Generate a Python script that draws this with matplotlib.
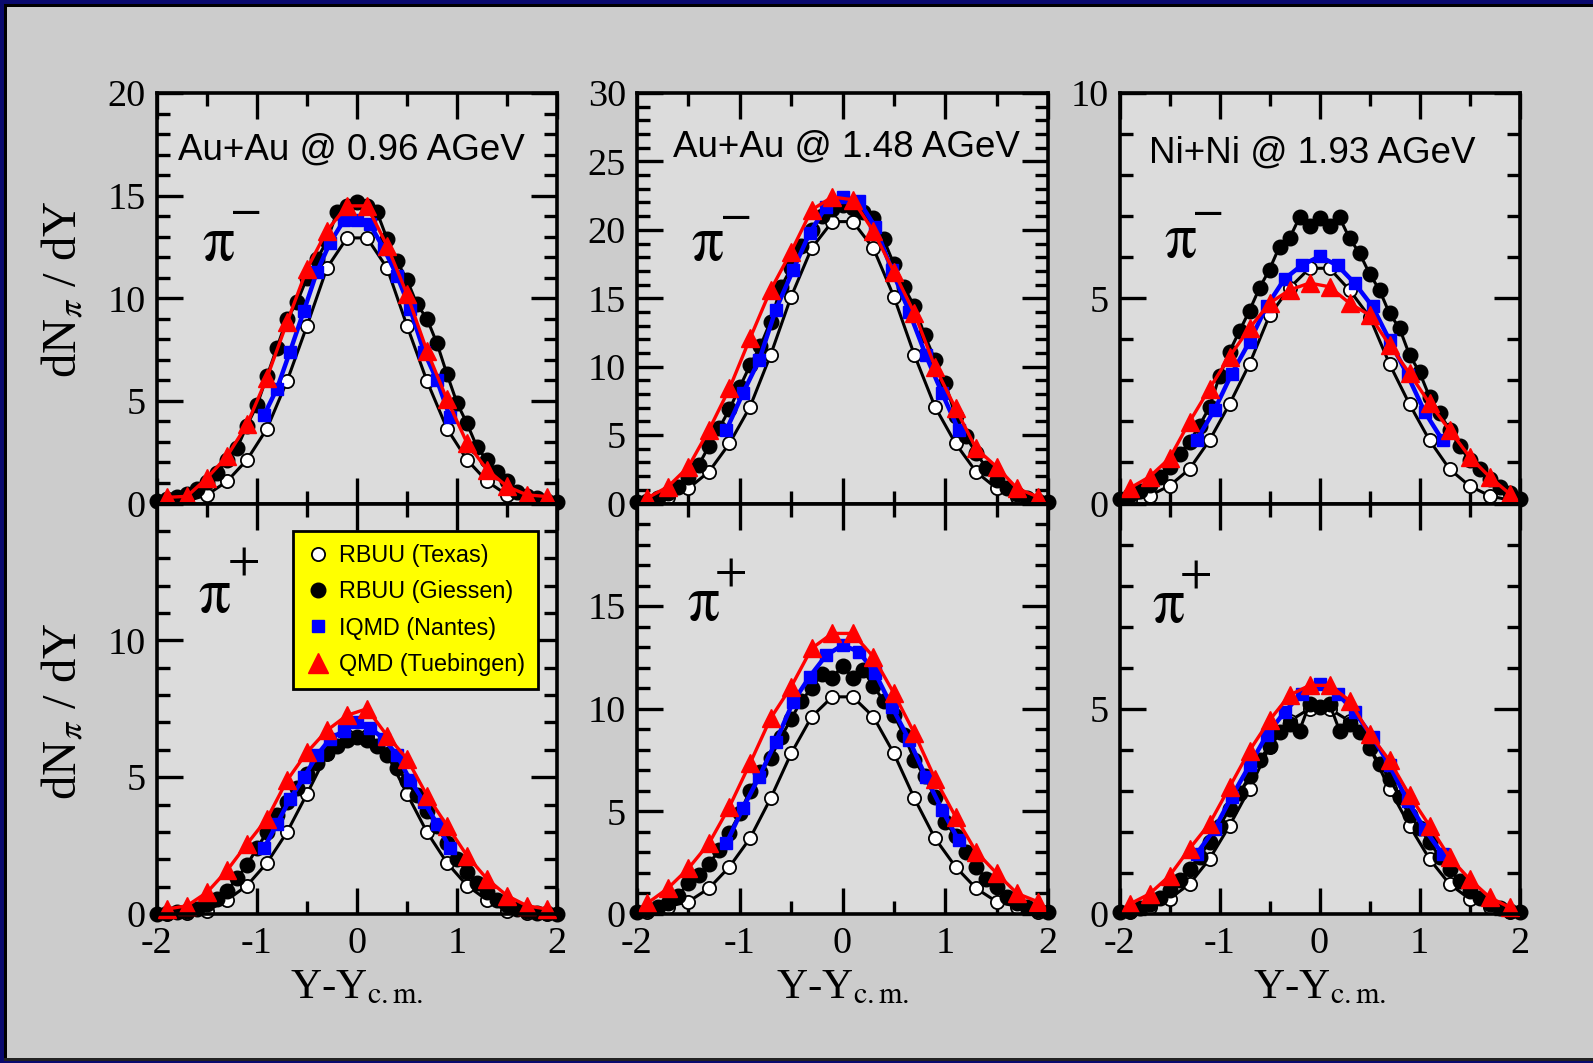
import matplotlib
matplotlib.use('Agg')
import matplotlib.pyplot as plt
from matplotlib.lines import Line2D
from matplotlib.patches import Rectangle
from matplotlib.ticker import MultipleLocator

plt.rcParams['axes.unicode_minus'] = False
plt.rcParams['mathtext.fontset'] = 'stix'
SERIF = ['Liberation Serif', 'DejaVu Serif']
SANS = ['Liberation Sans', 'DejaVu Sans']
plt.rcParams['font.family'] = SERIF

# ---------------- data ----------------
x_odd = [-1.9, -1.7, -1.5, -1.3, -1.1, -0.9, -0.7, -0.5, -0.3, -0.1,
         0.1, 0.3, 0.5, 0.7, 0.9, 1.1, 1.3, 1.5, 1.7, 1.9]
x_tenth = [-2.0, -1.9, -1.8, -1.7, -1.6, -1.5, -1.4, -1.3, -1.2, -1.1, -1.0,
           -0.9, -0.8, -0.7, -0.6, -0.5, -0.4, -0.3, -0.2, -0.1, 0.0,
           0.1, 0.2, 0.3, 0.4, 0.5, 0.6, 0.7, 0.8, 0.9, 1.0,
           1.1, 1.2, 1.3, 1.4, 1.5, 1.6, 1.7, 1.8, 1.9, 2.0]
x_iqmd_au096 = [-0.93, -0.80, -0.67, -0.53, -0.40, -0.27, -0.13, 0.0,
                0.13, 0.27, 0.40, 0.53, 0.67, 0.80, 0.93]
x_iqmd_au148 = [-1.13, -0.97, -0.81, -0.65, -0.48, -0.32, -0.16, 0.0,
                0.16, 0.32, 0.48, 0.65, 0.81, 0.97, 1.13]
x_iqmd_ni193 = [-1.23, -1.05, -0.88, -0.70, -0.53, -0.35, -0.18, 0.0,
                0.18, 0.35, 0.53, 0.70, 0.88, 1.05, 1.23]

# Au+Au 0.96 AGeV, pi-
texas_au096_m = [0.03, 0.12, 0.42, 1.08, 2.13, 3.65, 5.96, 8.66, 11.48, 12.94,
                 12.94, 11.48, 8.66, 5.96, 3.65, 2.13, 1.08, 0.42, 0.12, 0.03]
giessen_au096_m = [0.1, 0.2, 0.3, 0.45, 0.7, 1.05, 1.5, 2.1, 2.7, 3.8, 4.8,
                   6.2, 7.6, 9.0, 9.8, 11.0, 11.9, 12.8, 14.2, 14.5, 14.7,
                   14.5, 14.2, 12.9, 11.8, 10.9, 9.7, 9.0, 7.8, 6.3, 4.9,
                   3.9, 2.75, 2.1, 1.55, 1.08, 0.55, 0.35, 0.25, 0.12, 0.05]
iqmd_au096_m = [4.3, 5.6, 7.4, 9.4, 11.3, 12.7, 13.8, 13.8, 13.6, 12.4, 11.1,
                9.5, 7.4, 6.0, 4.2]
qmd_au096_m = [0.3, 0.35, 1.24, 2.3, 3.85, 6.13, 8.82, 11.43, 13.3, 14.5,
               14.5, 12.57, 10.2, 7.43, 5.07, 2.95, 1.65, 0.83, 0.42, 0.34]

# Au+Au 0.96 AGeV, pi+
texas_au096_p = [0.0, 0.03, 0.12, 0.51, 1.04, 1.87, 2.99, 4.39, 5.85, 6.52,
                 6.52, 5.85, 4.39, 2.99, 1.87, 1.04, 0.51, 0.12, 0.03, 0.0]
giessen_au096_p = [0.01, 0.03, 0.06, 0.12, 0.2, 0.35, 0.55, 0.85, 1.3, 1.8, 2.4,
                   3.0, 3.6, 4.1, 4.6, 5.1, 5.5, 5.9, 6.15, 6.35, 6.45,
                   6.35, 6.15, 5.8, 5.35, 4.85, 4.35, 3.75, 3.2, 2.6, 2.0,
                   1.55, 1.15, 0.8, 0.5, 0.32, 0.18, 0.1, 0.05, 0.02, 0.01]
iqmd_au096_p = [2.4, 3.3, 4.2, 5.0, 5.8, 6.4, 6.7, 7.0, 6.8, 6.4, 5.8,
                4.9, 4.1, 3.3, 2.4]
qmd_au096_p = [0.18, 0.30, 0.79, 1.59, 2.56, 3.48, 4.88, 5.91, 6.71, 7.26,
               7.5, 6.52, 5.67, 4.33, 3.23, 2.13, 1.28, 0.67, 0.30, 0.18]

# Au+Au 1.48 AGeV, pi-
texas_au148_m = [0.15, 0.49, 1.1, 2.32, 4.39, 7.07, 10.85, 15.12, 18.66, 20.6,
                 20.6, 18.66, 15.12, 10.85, 7.07, 4.39, 2.32, 1.1, 0.49, 0.15]
giessen_au148_m = [0.1, 0.2, 0.4, 0.75, 1.2, 1.95, 2.8, 4.2, 5.5, 6.9, 8.5,
                   10.1, 11.5, 13.3, 15.8, 17.2, 18.8, 20.0, 21.0, 21.5, 21.8,
                   21.6, 21.3, 20.9, 19.3, 17.5, 15.8, 14.4, 12.3, 10.5, 8.8,
                   6.4, 4.9, 3.7, 2.6, 1.75, 1.1, 0.73, 0.4, 0.2, 0.1]
iqmd_au148_m = [5.37, 8.05, 10.5, 14.15, 17.07, 19.76, 21.7, 22.4, 22.1,
                20.2, 17.07, 14.0, 10.85, 8.05, 5.37]
qmd_au148_m = [0.4, 1.22, 2.68, 5.37, 8.41, 12.07, 15.6, 18.4, 21.46, 22.4,
               22.2, 19.9, 16.95, 13.9, 10.0, 6.95, 4.02, 2.68, 1.1, 0.49]

# Au+Au 1.48 AGeV, pi+
texas_au148_p = [0.1, 0.36, 0.6, 1.25, 2.3, 3.69, 5.63, 7.82, 9.61, 10.58,
                 10.58, 9.61, 7.82, 5.63, 3.69, 2.3, 1.25, 0.6, 0.36, 0.1]
giessen_au148_p = [0.1, 0.2, 0.36, 0.55, 0.9, 1.5, 1.9, 2.45, 3.1, 3.95, 4.9,
                   6.0, 6.9, 7.6, 8.6, 9.5, 10.4, 11.0, 11.7, 11.5, 12.1,
                   11.5, 11.9, 11.1, 10.4, 9.7, 8.7, 7.5, 6.7, 5.7, 4.5,
                   3.8, 3.0, 2.3, 1.7, 1.3, 0.85, 0.55, 0.33, 0.2, 0.1]
iqmd_au148_p = [3.44, 5.15, 6.69, 8.39, 10.34, 11.56, 12.6, 13.1, 12.78,
                11.72, 10.1, 8.47, 6.69, 5.06, 3.6]
qmd_au148_p = [0.52, 1.25, 2.22, 3.44, 5.23, 7.34, 9.53, 11.07, 12.94, 13.67,
               13.67, 12.53, 10.75, 8.8, 6.6, 4.74, 3.04, 1.98, 1.0, 0.6]

# Ni+Ni 1.93 AGeV, pi-
texas_ni193_m = [0.08, 0.19, 0.43, 0.84, 1.54, 2.42, 3.4, 4.58, 5.25, 5.73,
                 5.73, 5.2, 4.55, 3.4, 2.42, 1.54, 0.84, 0.43, 0.19, 0.08]
giessen_ni193_m = [0.1, 0.2, 0.3, 0.45, 0.65, 0.9, 1.2, 1.5, 1.9, 2.35, 3.1,
                   3.7, 4.2, 4.7, 5.25, 5.7, 6.26, 6.46, 6.97, 6.75, 6.95,
                   6.75, 6.97, 6.46, 6.1, 5.6, 5.2, 4.63, 4.27, 3.62, 3.2,
                   2.6, 2.2, 1.8, 1.4, 1.05, 0.85, 0.6, 0.4, 0.25, 0.12]
iqmd_ni193_m = [1.54, 2.28, 3.15, 3.94, 4.8, 5.47, 5.8, 6.02, 5.8, 5.37, 4.8,
                3.98, 3.13, 2.24, 1.54]
qmd_ni193_m = [0.37, 0.65, 1.1, 1.99, 2.8, 3.58, 4.27, 4.88, 5.2, 5.37,
               5.28, 4.88, 4.59, 3.86, 3.17, 2.44, 1.79, 1.14, 0.65, 0.24]

# Ni+Ni 1.93 AGeV, pi+
texas_ni193_p = [0.04, 0.16, 0.37, 0.73, 1.34, 2.15, 3.05, 4.07, 4.7, 5.0,
                 5.0, 4.7, 4.07, 3.05, 2.15, 1.34, 0.73, 0.37, 0.16, 0.04]
giessen_ni193_p = [0.04, 0.08, 0.15, 0.25, 0.4, 0.58, 0.82, 1.1, 1.4, 1.75, 2.15,
                   2.55, 2.95, 3.35, 3.75, 4.1, 4.43, 4.63, 4.47, 5.12, 5.04,
                   5.12, 4.47, 4.63, 4.43, 4.05, 3.65, 3.3, 2.85, 2.4, 2.1,
                   1.75, 1.4, 1.1, 0.8, 0.55, 0.38, 0.25, 0.15, 0.08, 0.04]
iqmd_ni193_p = [1.46, 2.07, 2.85, 3.62, 4.35, 4.92, 5.37, 5.61, 5.37, 4.92,
                4.31, 3.62, 2.76, 2.07, 1.46]
qmd_ni193_p = [0.24, 0.49, 0.93, 1.59, 2.2, 3.09, 3.98, 4.72, 5.33, 5.57,
               5.57, 5.2, 4.39, 3.74, 2.89, 2.15, 1.38, 0.85, 0.41, 0.16]

titles = ['Au+Au @ 0.96 AGeV', 'Au+Au @ 1.48 AGeV', 'Ni+Ni @ 1.93 AGeV']
legend_labels = ['RBUU (Texas)', 'RBUU (Giessen)', 'IQMD (Nantes)', 'QMD (Tuebingen)']
x_ticks = [-2, -1, 0, 1, 2]
x_ticklabels = ['-2', '-1', '0', '1', '2']

# ---------------- figure ----------------
W, H = 1593, 1063
fig = plt.figure(figsize=(W / 100, H / 100), dpi=100, facecolor='#cccccc')

def frect(x0, y0, w, h, color):
    fig.patches.append(Rectangle((x0 / W, 1 - (y0 + h) / H), w / W, h / H,
                                 transform=fig.transFigure, facecolor=color,
                                 edgecolor='none', zorder=0))

NAVY = '#0a0a6e'
frect(0, 0, 4, H, NAVY)
frect(0, 0, W, 3.5, NAVY)
frect(4, 3.5, 3, H - 3.5, 'black')
frect(4, 3.5, W - 4, 3, 'black')
frect(4, H - 5, W - 4, 2.5, '#222222')
frect(0, H - 2.5, W, 2.5, NAVY)

cols = [(157, 400), (637, 411), (1119.5, 400)]
rows = [(93, 503.5), (503.5, 914)]

BLUE = '#0000ff'
RED = '#ff0000'

panels = {
    (0, 0): (texas_au096_m, giessen_au096_m, x_iqmd_au096, iqmd_au096_m, qmd_au096_m),
    (1, 0): (texas_au096_p, giessen_au096_p, x_iqmd_au096, iqmd_au096_p, qmd_au096_p),
    (0, 1): (texas_au148_m, giessen_au148_m, x_iqmd_au148, iqmd_au148_m, qmd_au148_m),
    (1, 1): (texas_au148_p, giessen_au148_p, x_iqmd_au148, iqmd_au148_p, qmd_au148_p),
    (0, 2): (texas_ni193_m, giessen_ni193_m, x_iqmd_ni193, iqmd_ni193_m, qmd_ni193_m),
    (1, 2): (texas_ni193_p, giessen_ni193_p, x_iqmd_ni193, iqmd_ni193_p, qmd_ni193_p),
}
ylims = {(0, 0): 20, (0, 1): 30, (0, 2): 10, (1, 0): 15, (1, 1): 20, (1, 2): 10}

# pi label positions (axes coords): pi baseline, superscript centre
pi_pos = {
    (0, 0): ((0.1525, 0.593), (0.2200, 0.712), '$\\mathrm{-}$'),
    (1, 0): ((0.1435, 0.735), (0.214, 0.856), '$\\mathrm{+}$'),
    (0, 1): ((0.1715, 0.593), (0.2370, 0.700), '$\\mathrm{-}$'),
    (1, 1): ((0.161, 0.716), (0.227, 0.829), '$\\mathrm{+}$'),
    (0, 2): ((0.151, 0.601), (0.217, 0.710), '$\\mathrm{-}$'),
    (1, 2): ((0.122, 0.712), (0.1885, 0.826), '$\\mathrm{+}$'),
}
title_pos = [(0.0525, 0.862), (0.087, 0.868), (0.074, 0.853)]

axes = {}
for (r, c), (tex, gie, xiq, iq, qmd) in panels.items():
    left, width = cols[c]
    top, bottom = rows[r]
    ax = fig.add_axes([left / W, 1 - bottom / H, width / W, (bottom - top) / H])
    axes[(r, c)] = ax
    ax.set_facecolor('#dcdcdc')
    ax.set_xlim(-2, 2)
    ymax = ylims[(r, c)]
    ax.set_ylim(0, ymax)

    ax.plot(x_odd, tex, color='black', lw=2.2, marker='o', ms=9.5,
            mfc='white', mec='black', mew=1.3, clip_on=False, zorder=3)
    ax.plot(x_tenth, gie, color='black', lw=2.2, marker='o', ms=10.5,
            mfc='black', mec='black', clip_on=False, zorder=4)
    ax.plot(xiq, iq, color=BLUE, lw=3.2, marker='s', ms=9,
            mfc=BLUE, mec=BLUE, clip_on=False, zorder=5)
    ax.plot(x_odd, qmd, color=RED, lw=2.4, marker='^', ms=13,
            mfc=RED, mec=RED, clip_on=False, zorder=6)

    # ticks
    ax.set_xticks(x_ticks)
    if r == 1:
        ax.set_xticklabels(x_ticklabels)
    else:
        ax.set_xticklabels([''] * 5)
    ax.xaxis.set_minor_locator(MultipleLocator(0.5))
    yt = list(range(0, ymax + 1, 5))
    ylab = [str(v) for v in yt]
    if r == 1:
        ylab[-1] = ''
    ax.set_yticks(yt)
    ax.set_yticklabels(ylab)
    ax.yaxis.set_minor_locator(MultipleLocator(1))
    ax.tick_params(which='both', direction='in', top=True, right=True,
                   color='black', width=2.4, labelsize=27.5)
    ax.tick_params(which='major', length=19)
    ax.tick_params(which='minor', length=9.5)
    ax.tick_params(axis='x', pad=9)
    ax.tick_params(axis='y', pad=8)
    for sp in ax.spines.values():
        sp.set_linewidth(2.6)
        sp.set_zorder(10)

    (px, py), (sx, sy), sign = pi_pos[(r, c)]
    ax.text(px, py, '$\\mathrm{\\pi}$', transform=ax.transAxes, fontsize=46,
            ha='center', va='baseline')
    ax.text(sx, sy, sign, transform=ax.transAxes, fontsize=34,
            ha='center', va='center')
    if r == 0:
        tx, ty = title_pos[c]
        ax.text(tx, ty, titles[c], transform=ax.transAxes, fontsize=26.5,
                ha='left', va='center', family=SANS)

# axis labels
fig.text(63 / W, 1 - 289 / H, 'dN$_{\\pi}$ / dY', rotation=90, fontsize=35,
         ha='center', va='center')
fig.text(63 / W, 1 - 711 / H, 'dN$_{\\pi}$ / dY', rotation=90, fontsize=35,
         ha='center', va='center')
for c in range(3):
    left, width = cols[c]
    fig.text((left + width / 2) / W, 1 - 998 / H, 'Y-Y$_{\\rm c.m.}$',
             fontsize=31, ha='center', va='baseline')

# legend
handles = [
    Line2D([], [], ls='none', marker='o', ms=9.5, mfc='white', mec='black', mew=1.3),
    Line2D([], [], ls='none', marker='o', ms=10.5, mfc='black', mec='black'),
    Line2D([], [], ls='none', marker='s', ms=8.5, mfc=BLUE, mec=BLUE),
    Line2D([], [], ls='none', marker='^', ms=14, mfc=RED, mec=RED),
]
leg = axes[(1, 0)].legend(handles, legend_labels, loc='upper left',
                          bbox_to_anchor=(0.341, 0.932), borderaxespad=0,
                          prop={'family': SANS, 'size': 16.8},
                          frameon=True, fancybox=False, framealpha=1,
                          facecolor='#ffff00', edgecolor='black',
                          handlelength=1.0, handletextpad=0.42,
                          labelspacing=0.565, borderpad=0.55)
leg.get_frame().set_linewidth(2.0)
leg.set_zorder(20)

fig.savefig('out.png', dpi=100, facecolor=fig.get_facecolor())
